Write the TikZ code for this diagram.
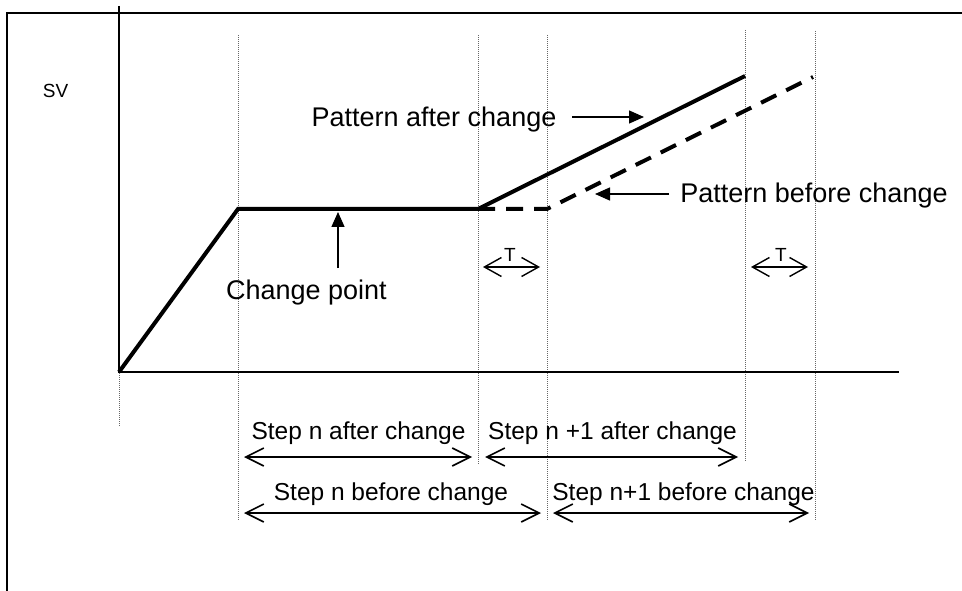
\documentclass[tikz,border=0pt]{standalone}
\usepackage{fontspec}
\setmainfont{Liberation Sans}
\usetikzlibrary{arrows.meta}
\begin{document}
\begin{tikzpicture}[x=1pt,y=-1pt,
  frameline/.style={line width=2pt},
  axisline/.style={line width=2pt},
  guide/.style={gray!80!black,line width=0.9pt,dash pattern=on 1pt off 1pt},
  trend/.style={line width=4pt,line join=miter},
  trenddash/.style={line width=4pt,dash pattern=on 17pt off 11pt},
  pointer/.style={line width=1.4pt,-{Triangle[length=15pt,width=13pt]}},
  spanarrow/.style={line width=2pt,{Straight Barb[length=18pt,width=18pt,line width=1.6pt]}-{Straight Barb[length=18pt,width=18pt,line width=1.6pt]}},
  tarrow/.style={line width=1.6pt,{Straight Barb[length=17pt,width=19pt,line width=1.4pt]}-{Straight Barb[length=17pt,width=19pt,line width=1.4pt]}},
  bigtxt/.style={font=\fontsize{27}{32}\selectfont,anchor=base,inner sep=0pt},
  steptxt/.style={font=\fontsize{24.5}{29}\selectfont,anchor=base,inner sep=0pt},
  smalltxt/.style={font=\fontsize{19}{23}\selectfont,anchor=base,inner sep=0pt},
]
\useasboundingbox (0,0) rectangle (962,591);
% frame
\coordinate (fbl) at (7,591);
\coordinate (ftl) at (7,13);
\coordinate (ftr) at (962,13);
\draw[frameline] (fbl) -- (ftl) -- (ftr);
% guides
\coordinate (g0a) at (119,373); \coordinate (g0b) at (119,426);
\coordinate (g1a) at (238,35);  \coordinate (g1b) at (238,520);
\coordinate (g2a) at (478,35);  \coordinate (g2b) at (478,465);
\coordinate (g3a) at (547,35);  \coordinate (g3b) at (547,520);
\coordinate (g4a) at (745,30);  \coordinate (g4b) at (745,462);
\coordinate (g5a) at (815,31);  \coordinate (g5b) at (815,520);
\foreach \g in {0,...,5} \draw[guide] (g\g a) -- (g\g b);
% axes
\coordinate (ytop) at (119,6);
\coordinate (org) at (119,372);
\coordinate (xend) at (899,372);
\draw[axisline] (ytop) -- (org) -- (xend);
% curves
\coordinate (p1) at (238,209);
\coordinate (p2) at (478,209);
\coordinate (p3) at (745,76);
\coordinate (q2) at (547,209);
\coordinate (q3) at (813,77);
\draw[trend] (org) -- (p1) -- (p2) -- (p3);
\draw[trenddash] (p2) -- (q2) -- (q3);
% labels
\node[smalltxt] (sv) at (55.5,98) {SV};
\node[bigtxt] (pac) at (434,127) {Pattern after change};
\node[bigtxt] (pbc) at (814,203) {Pattern before change};
\node[bigtxt] (cp) at (306.5,299) {Change point};
\coordinate (pacA) at (572,117); \coordinate (pacB) at (644,117);
\draw[pointer] (pacA) -- (pacB);
\coordinate (pbcA) at (669,194); \coordinate (pbcB) at (595,194);
\draw[pointer] (pbcA) -- (pbcB);
\coordinate (cpA) at (338,268); \coordinate (cpB) at (338,212);
\draw[pointer] (cpA) -- (cpB);
% T intervals
\node[smalltxt] (t1) at (510,261) {T};
\node[smalltxt] (t2) at (781,261) {T};
\coordinate (t1a) at (483,267); \coordinate (t1b) at (540,267);
\coordinate (t2a) at (751,267); \coordinate (t2b) at (808,267);
\draw[tarrow] (t1a) -- (t1b);
\draw[tarrow] (t2a) -- (t2b);
% step spans
\node[steptxt] (sna) at (358.5,439) {Step n after change};
\node[steptxt] (sn1a) at (612.5,439) {Step n +1 after change};
\node[steptxt] (snb) at (391,500) {Step n before change};
\node[steptxt] (sn1b) at (683.5,500) {Step n+1 before change};
\coordinate (s1a) at (244,457); \coordinate (s1b) at (472,457);
\coordinate (s2a) at (485,457); \coordinate (s2b) at (738,457);
\coordinate (s3a) at (244,513); \coordinate (s3b) at (541,513);
\coordinate (s4a) at (553,513); \coordinate (s4b) at (809,513);
\draw[spanarrow] (s1a) -- (s1b);
\draw[spanarrow] (s2a) -- (s2b);
\draw[spanarrow] (s3a) -- (s3b);
\draw[spanarrow] (s4a) -- (s4b);
\end{tikzpicture}
\end{document}
